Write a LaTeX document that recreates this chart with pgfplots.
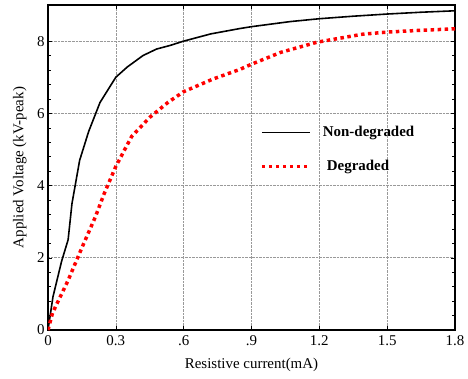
\documentclass[border=0pt]{standalone}
\usepackage{pgfplots}
\pgfplotsset{compat=1.18}
\usepackage{fontspec}
\setmainfont{Liberation Serif}
\begin{document}
\begin{tikzpicture}
\begin{axis}[
  scale only axis,
  width=407bp, height=325bp,
  xmin=0, xmax=1.8, ymin=0, ymax=9,
  xtick={0,0.3,0.6,0.9,1.2,1.5,1.8},
  xticklabels={0,0.3,.6,.9,1.2,1.5,1.8},
  ytick={0,2,4,6,8},
  minor y tick num=4,
  tick align=inside,
  major tick length=4bp, minor tick length=3bp,
  grid=major,
  major grid style={densely dotted, gray!80, line width=0.6pt},
  axis line style={line width=1.2pt},
  tick style={black, line width=0.5pt},
  ticklabel style={font=\fontsize{15}{17}\selectfont},
  xticklabel style={yshift=-2bp},
  /pgf/number format/assume math mode=true,
  xlabel={Resistive current(mA)},
  ylabel={Applied Voltage (kV-peak)},
  label style={font=\fontsize{15}{17}\selectfont},
  xlabel style={at={(axis description cs:0.5,-0.108)}, anchor=center},
  ylabel style={at={(axis description cs:-0.069,0.5)}, anchor=center},
  legend style={draw=none, fill=none, inner sep=0pt, at={(axis description cs:0.521,0.633)}, anchor=north west, font=\fontsize{15}{17}\selectfont\bfseries, row sep=18bp},
  legend cell align=left,
  legend image code/.code={\draw[#1] (0cm,0cm) -- (1.7cm,0cm);},
]
\addplot[black, line width=1.6pt] coordinates {
(0,0) (0.022,0.92) (0.06,1.9) (0.089,2.5) (0.106,3.5) (0.14,4.7) (0.18,5.5) (0.23,6.3)
(0.30,7.0) (0.35,7.28) (0.42,7.6) (0.48,7.78) (0.54,7.88) (0.6,8.0) (0.72,8.2)
(0.85,8.35) (0.90,8.4) (1.07,8.54) (1.2,8.62) (1.35,8.69) (1.5,8.75) (1.65,8.8) (1.8,8.84)
};
\addlegendentry{\hspace{9bp}Non-degraded}
\addplot[red, line width=3.5pt, dash pattern=on 3.5pt off 3.5pt] coordinates {
(0,0) (0.02,0.47) (0.09,1.39) (0.15,2.28) (0.21,3.14) (0.25,3.8) (0.30,4.53)
(0.37,5.36) (0.45,5.89) (0.53,6.3) (0.6,6.6) (0.73,6.95) (0.85,7.22) (0.90,7.36)
(1.03,7.69) (1.19,7.97) (1.39,8.19) (1.5,8.25) (1.65,8.3) (1.8,8.34)
};
\addlegendentry{\hspace{13bp}Degraded}
\end{axis}
\pgfresetboundingbox
\path[use as bounding box] ([xshift=-48bp,yshift=-49bp]current axis.south west) rectangle ++(468bp,379bp);
\end{tikzpicture}
\end{document}
